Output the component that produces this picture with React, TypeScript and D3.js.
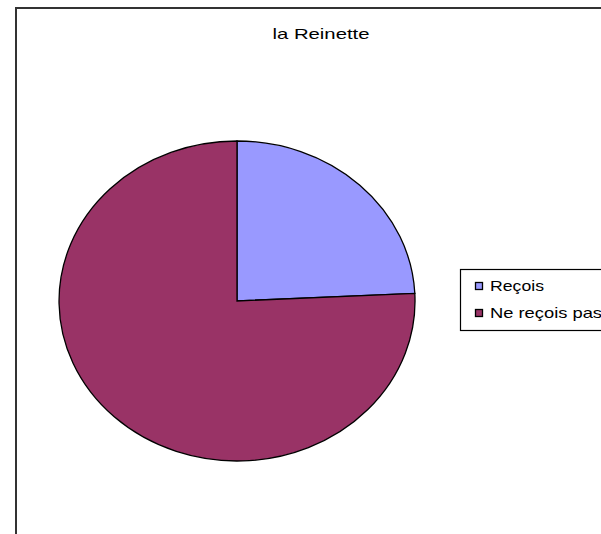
import React from "react";
import * as d3 from "d3";

const title = "la Reinette";
const categories = ["Reçois", "Ne reçois pas"];
const values = [8, 25];
const colors = ["#9999FF", "#993366"];

export default function App() {
  const width = 601;
  const height = 534;
  const cx = 237;
  const cy = 301;
  const rx = 178;
  const ry = 160;

  const data = categories.map((c, i) => ({ name: c, value: values[i], color: colors[i] }));

  // pie starts at 12 o'clock, clockwise, keep order
  const pie = d3
    .pie<{ name: string; value: number; color: string }>()
    .sort(null)
    .value((d) => d.value);
  const arcs = pie(data);

  // unit circle arc, stretched into an ellipse
  const arc = d3.arc<d3.PieArcDatum<any>>().innerRadius(0).outerRadius(1);

  return (
    <svg
      width={width}
      height={height}
      style={{ position: "absolute", left: 0, top: 0, background: "#fff" }}
      fontFamily="'Liberation Sans', Arial, sans-serif"
    >
      {/* chart frame */}
      <rect x={16} y={8} width={width} height={height} fill="#fff" stroke="#333" strokeWidth={2} />

      <text x={321} y={38.5} fontSize={14.5} textAnchor="middle" textLength={97} lengthAdjust="spacingAndGlyphs" fill="#000">
        {title}
      </text>

      <g transform={`translate(${cx},${cy}) scale(${rx},${ry})`}>
        {arcs.map((a, i) => (
          <path
            key={i}
            d={arc(a) as string}
            fill={a.data.color}
            stroke="#000"
            strokeWidth={1.3}
            vectorEffect="non-scaling-stroke"
          />
        ))}
      </g>

      {/* legend */}
      <g>
        <rect x={460.5} y={269.5} width={200} height={61} fill="#fff" stroke="#000" strokeWidth={1.2} />
        {data.map((d, i) => (
          <g key={i} transform={`translate(0,${i * 27})`}>
            <rect x={475.5} y={282.5} width={7} height={7} fill={d.color} stroke="#000" strokeWidth={1.3} />
            <text
              x={490}
              y={291}
              fontSize={14.5}
              fill="#000"
              textLength={i === 0 ? 54 : 112}
              lengthAdjust="spacingAndGlyphs"
            >
              {d.name}
            </text>
          </g>
        ))}
      </g>
    </svg>
  );
}
